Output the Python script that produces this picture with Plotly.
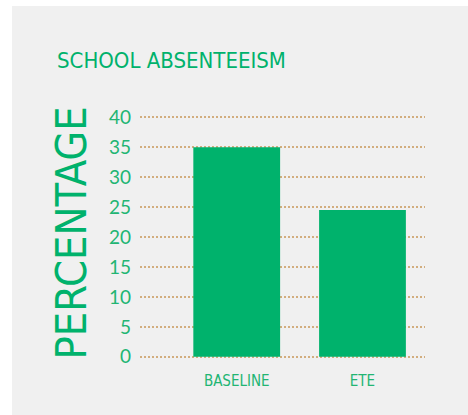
import plotly.graph_objects as go

categories = ["BASELINE", "ETE"]
values = [35, 24.5]
y_ticks = [0, 5, 10, 15, 20, 25, 30, 35, 40]
title_text = "SCHOOL ABSENTEEISM"
y_title = "PERCENTAGE"

GREEN = "#00b26c"
LABEL = "#22b573"
GRID = "#d2ad7e"
BG = "#f0f0f0"
NARROW = "Liberation Sans Narrow, DejaVu Sans Condensed, Roboto"

W, H = 468, 415
L, R, T, B = 140, 43, 116, 57
pw, ph = W - L - R, H - T - B


def px(x):
    return (x - L) / pw


def py(y):
    return (H - B - y) / ph


fig = go.Figure(
    go.Bar(
        x=[0, 1],
        y=values,
        width=0.69,
        marker=dict(color=GREEN, line=dict(width=0)),
        hoverinfo="skip",
    )
)

fig.update_layout(
    width=W,
    height=H,
    margin=dict(l=L, r=R, t=T, b=B, pad=0),
    paper_bgcolor=BG,
    plot_bgcolor=BG,
    showlegend=False,
    xaxis=dict(
        range=[-0.769, 1.497],
        tickvals=[0, 1],
        ticktext=categories,
        showgrid=False,
        zeroline=False,
        showline=False,
        ticks="",
        ticklabelstandoff=12,
        tickfont=dict(family=NARROW, size=15, color=LABEL),
    ),
    yaxis=dict(
        range=[-0.2, 40.2],
        tickvals=y_ticks,
        showgrid=True,
        gridcolor=GRID,
        gridwidth=1.5,
        griddash="2px,2px",
        zeroline=False,
        showline=False,
        ticks="",
        ticklabelstandoff=8,
        tickfont=dict(family="Lato", size=19, color=LABEL),
    ),
    shapes=[
        dict(type="rect", xref="paper", yref="paper", x0=px(0), x1=px(W), y0=py(0), y1=py(6),
             fillcolor="white", line=dict(width=0), layer="below"),
        dict(type="rect", xref="paper", yref="paper", x0=px(0), x1=px(12), y0=py(0), y1=py(H),
             fillcolor="white", line=dict(width=0), layer="below"),
    ],
    annotations=[
        dict(text=title_text, xref="paper", yref="paper", x=px(55), y=py(61),
             xanchor="left", yanchor="middle", showarrow=False,
             font=dict(family=NARROW, size=22, color=GREEN)),
        dict(text=y_title, xref="paper", yref="paper", x=px(70), y=py(233.5),
             xanchor="center", yanchor="middle", showarrow=False, textangle=-90,
             font=dict(family=NARROW, size=43, color=GREEN)),
    ],
)

fig.write_html(
    "out.html",
    config={"displayModeBar": False, "staticPlot": True},
    post_script=(
        "document.body.style.margin='0';"
        "document.body.style.overflow='hidden';"
        "document.body.style.background='#f0f0f0';"
        "document.documentElement.style.background='#f0f0f0';"
    ),
)
